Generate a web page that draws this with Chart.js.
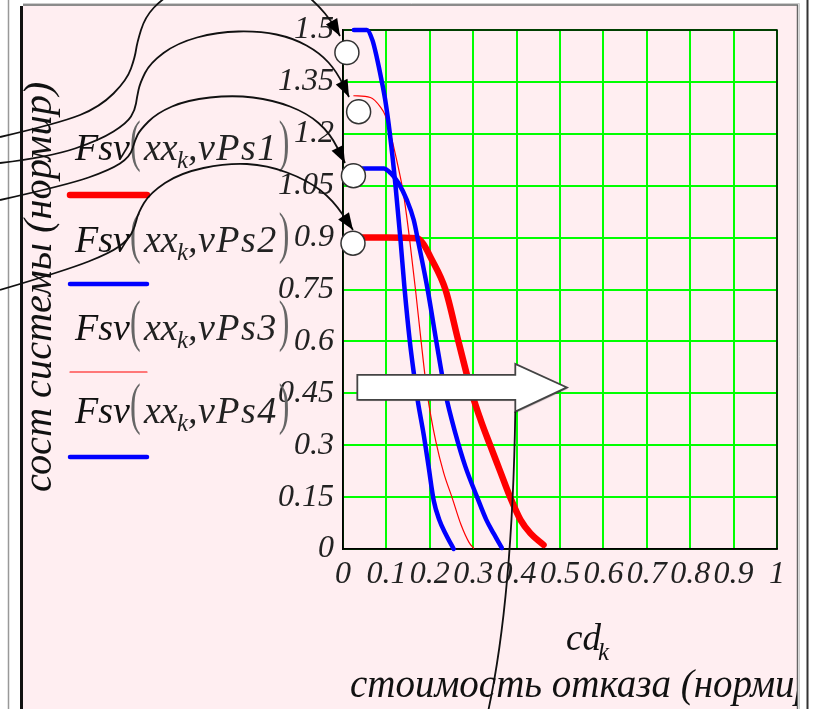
<!DOCTYPE html>
<html>
<head>
<meta charset="utf-8">
<script src="https://cdn.jsdelivr.net/npm/chart.js@4.4.1/dist/chart.umd.min.js"></script>
<style>
  html, body { margin: 0; padding: 0; background: #fff; }
  #wrap { width: 817px; height: 709px; position: relative; }
</style>
</head>
<body>
<div id="wrap"><canvas id="chart"></canvas></div>
<script>
    // axis ticks
    const xTickValues = [0, 0.1, 0.2, 0.3, 0.4, 0.5, 0.6, 0.7, 0.8, 0.9, 1];
    const xTickLabels = ['0', '0.1', '0.2', '0.3', '0.4', '0.5', '0.6', '0.7', '0.8', '0.9', '1'];
    const yTickValues = [0, 0.15, 0.3, 0.45, 0.6, 0.75, 0.9, 1.05, 1.2, 1.35, 1.5];
    const yTickLabels = ['0', '0.15', '0.3', '0.45', '0.6', '0.75', '0.9', '1.05', '1.2', '1.35', '1.5'];

    // series: cd_k -> Fsv
    const seriesNames = ['vPs1', 'vPs2', 'vPs3', 'vPs4'];
    const xxPs1 = [0.025, 0.10, 0.17, 0.185, 0.201, 0.236, 0.266, 0.297, 0.318, 0.339, 0.362, 0.385, 0.409, 0.432, 0.462];
    const fsvPs1 = [0.90, 0.90, 0.898, 0.882, 0.845, 0.75, 0.60, 0.45, 0.37, 0.30, 0.225, 0.15, 0.084, 0.045, 0.012];
    const xxPs2 = [0.025, 0.094, 0.110, 0.128, 0.147, 0.163, 0.174, 0.195, 0.215, 0.236, 0.259, 0.282, 0.309, 0.330, 0.347, 0.366];
    const fsvPs2 = [1.10, 1.10, 1.086, 1.057, 1.009, 0.951, 0.884, 0.75, 0.60, 0.45, 0.334, 0.238, 0.15, 0.085, 0.045, 0.003];
    const xxPs3 = [0.025, 0.063, 0.086, 0.097, 0.113, 0.127, 0.139, 0.153, 0.167, 0.180, 0.194, 0.214, 0.232, 0.251, 0.272, 0.290, 0.301];
    const fsvPs3 = [1.31, 1.305, 1.278, 1.254, 1.182, 1.105, 1.029, 0.90, 0.75, 0.60, 0.45, 0.31, 0.22, 0.15, 0.07, 0.02, 0.002];
    const xxPs4 = [0.025, 0.055, 0.068, 0.078, 0.088, 0.097, 0.108, 0.121, 0.132, 0.142, 0.154, 0.163, 0.172, 0.186, 0.197, 0.209, 0.222, 0.236, 0.255];
    const fsvPs4 = [1.5, 1.5, 1.47, 1.42, 1.36, 1.30, 1.20, 1.05, 0.90, 0.75, 0.60, 0.51, 0.43, 0.33, 0.24, 0.14, 0.084, 0.045, 0.0];

    const seriesColors = ['#ff0000', '#0000ff', '#ff0000', '#0000ff'];
    const seriesWidths = [6.5, 4.5, 1.2, 4.5];

    const SERIF = '"Liberation Serif", "Times New Roman", serif';
    const toPts = (xs, ys) => xs.map((x, i) => ({ x: x, y: ys[i] }));

    // helpers for the decorations
    function smoothPath(ctx, pts) {
        ctx.beginPath();
        ctx.moveTo(pts[0][0], pts[0][1]);
        for (let i = 1; i < pts.length - 1; i++) {
            const mx = (pts[i][0] + pts[i + 1][0]) / 2, my = (pts[i][1] + pts[i + 1][1]) / 2;
            ctx.quadraticCurveTo(pts[i][0], pts[i][1], mx, my);
        }
        const last = pts[pts.length - 1];
        ctx.lineTo(last[0], last[1]);
        ctx.stroke();
    }

    function arrowHead(ctx, from, tip) {
        const a = Math.atan2(tip[1] - from[1], tip[0] - from[0]);
        const len = 17, half = 6.5;
        ctx.beginPath();
        ctx.moveTo(tip[0], tip[1]);
        ctx.lineTo(tip[0] - len * Math.cos(a) + half * Math.sin(a), tip[1] - len * Math.sin(a) - half * Math.cos(a));
        ctx.lineTo(tip[0] - len * Math.cos(a) - half * Math.sin(a), tip[1] - len * Math.sin(a) + half * Math.cos(a));
        ctx.closePath();
        ctx.fill();
    }

    function paren(ctx, ch, x, base) {
        ctx.save();
        ctx.translate(x, base);
        ctx.scale(0.55, 1);
        ctx.font = '58px ' + SERIF;
        ctx.fillStyle = '#666';
        ctx.fillText(ch, 0, 0);
        ctx.restore();
    }

    // legend label: Fsv(xx_k,vPsN), pieces placed like the original
    function drawFsv(ctx, x, base, name) {
        ctx.fillStyle = '#111';
        ctx.font = 'italic 38px ' + SERIF;
        ctx.fillText('Fsv', x, base);
        paren(ctx, '(', x + 55, base);
        ctx.fillStyle = '#222';
        ctx.fillText('xx', x + 69, base);
        ctx.font = 'italic 25px ' + SERIF;
        ctx.fillText('k', x + 102, base + 8);
        ctx.font = 'italic 38px ' + SERIF;
        ctx.fillText(',', x + 113, base);
        ctx.save();
        ctx.letterSpacing = '1.5px';
        ctx.fillText(name, x + 123, base);
        const w = ctx.measureText(name).width;
        ctx.restore();
        paren(ctx, ')', x + 123 + w + 1, base);
    }

    // pixel paths of the black pointer curves on the left (decoration)
    const pointerPaths = [
        [[0, 137], [60, 123], [100, 107], [127, 80], [135, 57], [137, 43], [145, 17], [163, -2], [200, -25], [255, -30], [295, -15], [318, 5], [332, 22], [340, 36]],
        [[0, 163], [50, 157], [100, 140], [127, 123], [135, 110], [137, 97], [140, 83], [150, 63], [177, 43], [217, 32], [260, 31], [293, 38], [320, 53], [337, 72], [349, 97]],
        [[0, 200], [67, 185], [110, 170], [130, 157], [135, 140], [140, 130], [157, 113], [187, 100], [233, 95], [273, 100], [307, 113], [330, 133], [345, 163]],
        [[0, 290], [67, 270], [110, 253], [128, 240], [135, 227], [138, 213], [150, 193], [180, 173], [227, 163], [267, 165], [307, 180], [333, 200], [353, 230]]
    ];
    // circles and block arrow in data units
    const markerX = [0.009, 0.036, 0.024, 0.023];
    const markerY = [1.435, 1.264, 1.079, 0.884];
    const blockArrowX = [0.033, 0.397, 0.516];
    const blockArrowY = [0.503, 0.431, 0.535, 0.397, 0.467];

    const decor = {
        id: 'decor',
        beforeDraw(chart) {
            const ctx = chart.ctx;
            ctx.save();
            ctx.fillStyle = '#fff';
            ctx.fillRect(0, 0, chart.width, chart.height);
            ctx.fillStyle = '#ffeef1';
            ctx.fillRect(23, 6, 774, 703);
            // frame lines
            ctx.strokeStyle = '#999';
            ctx.lineWidth = 1.5;
            ctx.beginPath(); ctx.moveTo(8.5, 0); ctx.lineTo(8.5, 709); ctx.stroke();
            ctx.strokeStyle = '#111';
            ctx.lineWidth = 3;
            ctx.beginPath(); ctx.moveTo(21.5, 6); ctx.lineTo(21.5, 709); ctx.stroke();
            ctx.strokeStyle = '#ccc';
            ctx.lineWidth = 1;
            ctx.beginPath(); ctx.moveTo(23, 3.5); ctx.lineTo(799.5, 3.5); ctx.lineTo(799.5, 709); ctx.stroke();
            ctx.strokeStyle = '#666';
            ctx.lineWidth = 1.5;
            ctx.beginPath(); ctx.moveTo(23, 5); ctx.lineTo(797.5, 5); ctx.lineTo(797.5, 709); ctx.stroke();
            ctx.strokeStyle = '#333';
            ctx.lineWidth = 2;
            ctx.beginPath(); ctx.moveTo(807.5, 0); ctx.lineTo(807.5, 709); ctx.stroke();
            ctx.restore();
        },
        beforeDatasetsDraw(chart) {
            const ctx = chart.ctx, a = chart.chartArea;
            ctx.save();
            ctx.strokeStyle = '#000';
            ctx.lineWidth = 1.5;
            ctx.strokeRect(a.left, a.top, a.right - a.left, a.bottom - a.top);
            ctx.restore();
        },
        afterDraw(chart) {
            const ctx = chart.ctx;
            const xs = chart.scales.x, ys = chart.scales.y;
            ctx.save();
            ctx.beginPath();
            ctx.rect(23, 6, 774, 703);
            ctx.clip();

            // legend
            const legendBase = [160, 252, 340, 423];
            const legendLineY = [195, 284, 372, 457];
            seriesNames.forEach((name, i) => {
                drawFsv(ctx, 75, legendBase[i], name);
                ctx.strokeStyle = seriesColors[i];
                ctx.lineWidth = seriesWidths[i];
                ctx.lineCap = 'round';
                ctx.beginPath();
                ctx.moveTo(70, legendLineY[i]);
                ctx.lineTo(147, legendLineY[i]);
                ctx.stroke();
            });

            // y axis title
            const yTitle = 'сост системы (нормир)';
            ctx.save();
            ctx.fillStyle = '#111';
            ctx.font = 'italic 36px ' + SERIF;
            const tw = ctx.measureText(yTitle).width;
            const fs = 36 * 410 / tw;
            ctx.font = 'italic ' + fs.toFixed(1) + 'px ' + SERIF;
            ctx.translate(51, 492);
            ctx.rotate(-Math.PI / 2);
            ctx.textAlign = 'left';
            ctx.fillText(yTitle, 0, 0);
            ctx.restore();

            // x axis titles
            ctx.fillStyle = '#111';
            ctx.font = 'italic 37px ' + SERIF;
            ctx.fillText('cd', 566, 650);
            ctx.font = 'italic 25px ' + SERIF;
            ctx.fillText('k', 598, 660);
            ctx.font = 'italic 39px ' + SERIF;
            ctx.fillText('стоимость отказа (нормир)', 350, 697);
            ctx.restore();

            // pointer curves
            ctx.save();
            ctx.strokeStyle = '#111';
            ctx.fillStyle = '#000';
            ctx.lineWidth = 1.8;
            pointerPaths.forEach(p => {
                smoothPath(ctx, p);
                arrowHead(ctx, p[p.length - 2], p[p.length - 1]);
            });

            // circles
            ctx.lineWidth = 1.5;
            ctx.strokeStyle = '#333';
            ctx.fillStyle = '#fff';
            markerX.forEach((mx, i) => {
                ctx.beginPath();
                ctx.arc(xs.getPixelForValue(mx), ys.getPixelForValue(markerY[i]), 12, 0, Math.PI * 2);
                ctx.fill();
                ctx.stroke();
            });

            // block arrow
            const bx0 = xs.getPixelForValue(blockArrowX[0]);
            const bx1 = xs.getPixelForValue(blockArrowX[1]);
            const bx2 = xs.getPixelForValue(blockArrowX[2]);
            const [bt, bb, ht, hb, tipY] = blockArrowY.map(v => ys.getPixelForValue(v));
            ctx.beginPath();
            ctx.moveTo(bx0, bt);
            ctx.lineTo(bx1, bt);
            ctx.lineTo(bx1, ht);
            ctx.lineTo(bx2, tipY);
            ctx.lineTo(bx1, hb);
            ctx.lineTo(bx1, bb);
            ctx.lineTo(bx0, bb);
            ctx.closePath();
            ctx.shadowColor = 'rgba(0,0,0,0.35)';
            ctx.shadowOffsetX = 1;
            ctx.shadowOffsetY = 1;
            ctx.shadowBlur = 1;
            ctx.fillStyle = '#fff';
            ctx.fill();
            ctx.shadowColor = 'transparent';
            ctx.strokeStyle = '#444';
            ctx.lineWidth = 1.8;
            ctx.stroke();

            // line from the block arrow down
            ctx.strokeStyle = '#111';
            ctx.lineWidth = 1.8;
            ctx.beginPath();
            ctx.moveTo(bx1, hb);
            ctx.quadraticCurveTo(bx1 - 3, 600, 488, 712);
            ctx.stroke();
            ctx.restore();
        }
    };

    const tickFont = { family: SERIF, size: 32, style: 'italic' };

    new Chart(document.getElementById('chart'), {
        type: 'line',
        data: {
            datasets: [
                { label: 'Fsv(xx,vPs4)', data: toPts(xxPs4, fsvPs4), borderColor: seriesColors[3], borderWidth: seriesWidths[3], order: 0 },
                { label: 'Fsv(xx,vPs2)', data: toPts(xxPs2, fsvPs2), borderColor: seriesColors[1], borderWidth: seriesWidths[1], order: 1 },
                { label: 'Fsv(xx,vPs3)', data: toPts(xxPs3, fsvPs3), borderColor: seriesColors[2], borderWidth: seriesWidths[2], order: 2 },
                { label: 'Fsv(xx,vPs1)', data: toPts(xxPs1, fsvPs1), borderColor: seriesColors[0], borderWidth: seriesWidths[0], order: 3 }
            ].map(d => Object.assign(d, { pointRadius: 0, fill: false, cubicInterpolationMode: 'monotone', clip: 6, borderCapStyle: 'round' }))
        },
        options: {
            responsive: true,
            maintainAspectRatio: false,
            animation: false,
            layout: { padding: { left: 0, top: 30, right: 40, bottom: 0 } },
            plugins: { legend: { display: false }, tooltip: { enabled: false } },
            scales: {
                x: {
                    type: 'linear', min: 0, max: 1,
                    afterBuildTicks: s => { s.ticks = xTickValues.map(v => ({ value: v })); },
                    afterFit: s => { s.height = 160; },
                    grid: { color: '#00ff00', lineWidth: 2, drawTicks: false },
                    border: { display: true, color: '#000', width: 1.5 },
                    ticks: { autoSkip: false, maxRotation: 0, minRotation: 0, padding: 6, color: '#222', font: tickFont,
                        callback: (v, i) => xTickLabels[i] }
                },
                y: {
                    type: 'linear', min: 0, max: 1.5,
                    afterBuildTicks: s => { s.ticks = yTickValues.map(v => ({ value: v })); },
                    afterFit: s => { s.width = 343; },
                    grid: { color: '#00ff00', lineWidth: 2, drawTicks: false },
                    border: { display: true, color: '#000', width: 1.5 },
                    ticks: { autoSkip: false, padding: 9, color: '#222', font: tickFont,
                        callback: (v, i) => yTickLabels[i] }
                }
            }
        },
        plugins: [decor]
    });
</script>
</body>
</html>
